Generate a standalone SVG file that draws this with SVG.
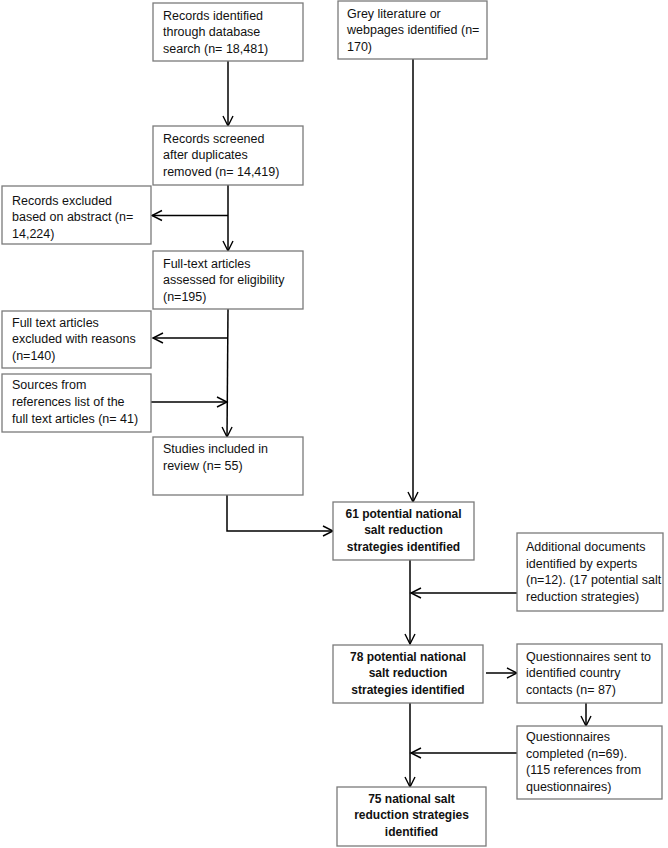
<svg xmlns="http://www.w3.org/2000/svg" width="668" height="848" viewBox="0 0 668 848">
<style>
.box{fill:#fff;stroke:#7a7a7a;stroke-width:1.3}
.t{font-family:"Liberation Sans",Arial,sans-serif;font-size:12.5px;fill:#111}
.b{font-family:"Liberation Sans",Arial,sans-serif;font-size:12px;font-weight:bold;fill:#111;text-anchor:middle}
.c{fill:none;stroke:#000;stroke-width:1.5}
</style>
<defs>
<marker id="ah" markerUnits="userSpaceOnUse" markerWidth="14" markerHeight="14" refX="11" refY="6" orient="auto">
<path d="M1,1 L11,6 L1,11" fill="none" stroke="#000" stroke-width="1.4"/>
</marker>
</defs>
<rect width="668" height="848" fill="#fff"/>
<g id="connectors">
<path class="c" d="M228,61 V126" marker-end="url(#ah)"/>
<path class="c" d="M228,185 V251" marker-end="url(#ah)"/>
<path class="c" d="M228,215.5 H152" marker-end="url(#ah)"/>
<path class="c" d="M228,309 L227,437" marker-end="url(#ah)"/>
<path class="c" d="M228,338 H153" marker-end="url(#ah)"/>
<path class="c" d="M151,402 H227" marker-end="url(#ah)"/>
<path class="c" d="M227,495 V531 H333" marker-end="url(#ah)"/>
<path class="c" d="M413,59 V502" marker-end="url(#ah)"/>
<path class="c" d="M410,560 V644" marker-end="url(#ah)"/>
<path class="c" d="M517,593 H411" marker-end="url(#ah)"/>
<path class="c" d="M486,673 H517" marker-end="url(#ah)"/>
<path class="c" d="M586,703 V726" marker-end="url(#ah)"/>
<path class="c" d="M410,703 V787" marker-end="url(#ah)"/>
<path class="c" d="M517,753 H411" marker-end="url(#ah)"/>
</g>
<g id="n1"><rect class="box" x="153" y="3" width="150" height="58"/>
<text class="t" x="163" y="19.5">Records identified</text>
<text class="t" x="163" y="36">through database</text>
<text class="t" x="163" y="52.5">search (n= 18,481)</text></g>
<g id="n2"><rect class="box" x="338" y="1" width="149" height="58"/>
<text class="t" x="347" y="17.7">Grey literature or</text>
<text class="t" x="347" y="34.3">webpages identified (n=</text>
<text class="t" x="347" y="51">170)</text></g>
<g id="n3"><rect class="box" x="153" y="126" width="150" height="59"/>
<text class="t" x="163" y="142.7">Records screened</text>
<text class="t" x="163" y="159.3">after duplicates</text>
<text class="t" x="163" y="176">removed (n= 14,419)</text></g>
<g id="n4"><rect class="box" x="2" y="186" width="149" height="58"/>
<text class="t" x="12" y="204.5">Records excluded</text>
<text class="t" x="12" y="221">based on abstract (n=</text>
<text class="t" x="12" y="237.5">14,224)</text></g>
<g id="n5"><rect class="box" x="153" y="251" width="150" height="58"/>
<text class="t" x="163" y="267.7">Full-text articles</text>
<text class="t" x="163" y="284.3">assessed for eligibility</text>
<text class="t" x="163" y="301">(n=195)</text></g>
<g id="n6"><rect class="box" x="2" y="311" width="149" height="57"/>
<text class="t" x="12" y="326.7">Full text articles</text>
<text class="t" x="12" y="343.3">excluded with reasons</text>
<text class="t" x="12" y="360">(n=140)</text></g>
<g id="n7"><rect class="box" x="2" y="374" width="149" height="58"/>
<text class="t" x="12" y="389.3">Sources from</text>
<text class="t" x="12" y="406">references list of the</text>
<text class="t" x="12" y="422.7">full text articles (n= 41)</text></g>
<g id="n8"><rect class="box" x="153" y="437" width="150" height="58"/>
<text class="t" x="163" y="453.3">Studies included in</text>
<text class="t" x="163" y="470">review (n= 55)</text></g>
<g id="n9"><rect class="box" x="333" y="502" width="141" height="58" stroke-width="1.5"/>
<text class="b" x="403.5" y="517.7">61 potential national</text>
<text class="b" x="403.5" y="534.3">salt reduction</text>
<text class="b" x="403.5" y="551">strategies identified</text></g>
<g id="n10"><rect class="box" x="517" y="533" width="146" height="78"/>
<text class="t" x="526" y="551">Additional documents</text>
<text class="t" x="526" y="567.5">identified by experts</text>
<text class="t" x="526" y="584">(n=12). (17 potential salt</text>
<text class="t" x="526" y="600.5">reduction strategies)</text></g>
<g id="n11"><rect class="box" x="333" y="645" width="150" height="58" stroke-width="1.5"/>
<text class="b" x="408" y="660.7">78 potential national</text>
<text class="b" x="408" y="677.3">salt reduction</text>
<text class="b" x="408" y="694">strategies identified</text></g>
<g id="n12"><rect class="box" x="517" y="644" width="145" height="59"/>
<text class="t" x="526" y="660.7">Questionnaires sent to</text>
<text class="t" x="526" y="677.3">identified country</text>
<text class="t" x="526" y="694">contacts (n= 87)</text></g>
<g id="n13"><rect class="box" x="517" y="726" width="145" height="73"/>
<text class="t" x="526" y="741">Questionnaires</text>
<text class="t" x="526" y="757.7">completed (n=69).</text>
<text class="t" x="526" y="774.3">(115 references from</text>
<text class="t" x="526" y="791">questionnaires)</text></g>
<g id="n14"><rect class="box" x="337" y="787" width="149" height="59" stroke-width="1.5"/>
<text class="b" x="411.5" y="802.7">75 national salt</text>
<text class="b" x="411.5" y="819.3">reduction strategies</text>
<text class="b" x="411.5" y="836">identified</text></g>
</svg>
